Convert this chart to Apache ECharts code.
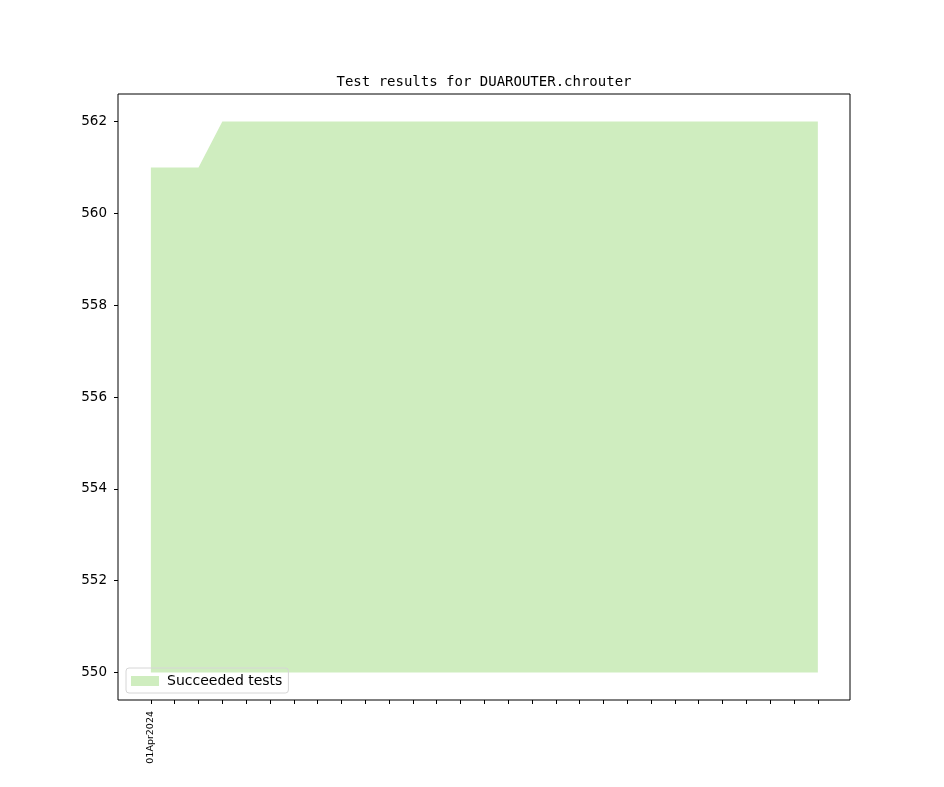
<!DOCTYPE html>
<html>
<head>
<meta charset="utf-8">
<script src="https://cdn.jsdelivr.net/npm/echarts@6/dist/echarts.min.js"></script>
<style>
  html, body { margin: 0; padding: 0; background: #fff; }
  #chart { width: 944px; height: 787px; }
</style>
</head>
<body>
<div id="chart"></div>
<script>
  // 每个刻度一个数据点（只有第一个刻度带日期标签）
  var tickLabels = ['01Apr2024', '', '', '', '', '', '', '', '', '', '', '', '', '', '',
                    '', '', '', '', '', '', '', '', '', '', '', '', '', ''];
  var succeeded = [561, 561, 561, 562, 562, 562, 562, 562, 562, 562, 562, 562, 562, 562, 562,
                   562, 562, 562, 562, 562, 562, 562, 562, 562, 562, 562, 562, 562, 562];
  var yTicks = [550, 552, 554, 556, 558, 560, 562];

  var xTicks = tickLabels.map(function (l, i) { return i; });
  var points = succeeded.map(function (v, i) { return [i, v]; });

  var chart = echarts.init(document.getElementById('chart'));
  chart.setOption({
    animation: false,
    backgroundColor: '#fff',
    title: {
      text: 'Test results for DUAROUTER.chrouter',
      left: 479, top: 70, textAlign: 'center',
      textStyle: { fontFamily: 'DejaVu Sans Mono', fontSize: 14, fontWeight: 'normal', color: '#000' }
    },
    legend: {
      left: 126, top: 668,
      padding: [6, 6, 5, 5],
      itemWidth: 28, itemHeight: 10, itemGap: 10,
      borderColor: '#d6d6d6', borderWidth: 1, borderRadius: 3,
      textStyle: { fontFamily: 'DejaVu Sans', fontSize: 14, color: '#000', padding: [0, 0, 0, 3] },
      data: [{ name: 'Succeeded tests', icon: 'rect' }]
    },
    grid: {
      left: 118, right: 94, top: 94, bottom: 87,
      show: true, borderColor: '#000', borderWidth: 1
    },
    xAxis: {
      type: 'value', min: -1.38, max: 29.35,
      splitLine: { show: false },
      axisLine: { show: false, onZero: false },
      axisTick: { show: true, length: 4, customValues: xTicks, lineStyle: { color: '#000' } },
      axisLabel: {
        rotate: 90, fontFamily: 'DejaVu Sans', fontSize: 9.5, color: '#000', margin: 11,
        customValues: xTicks,
        formatter: function (v) { return tickLabels[Math.round(v)] || ''; }
      }
    },
    yAxis: {
      type: 'value', min: 549.4, max: 562.6,
      splitLine: { show: false },
      axisLine: { show: false, onZero: false },
      axisTick: { show: true, length: 4, customValues: yTicks, lineStyle: { color: '#000' } },
      axisLabel: {
        fontFamily: 'DejaVu Sans', fontSize: 13.5, color: '#000', margin: 11,
        customValues: yTicks
      }
    },
    series: [{
      name: 'Succeeded tests',
      type: 'line',
      data: points,
      showSymbol: false,
      lineStyle: { width: 0, color: '#cfedbf' },
      itemStyle: { color: '#cfedbf' },
      areaStyle: { color: '#cfedbf', opacity: 1, origin: 550 }
    }]
  });
</script>
</body>
</html>
